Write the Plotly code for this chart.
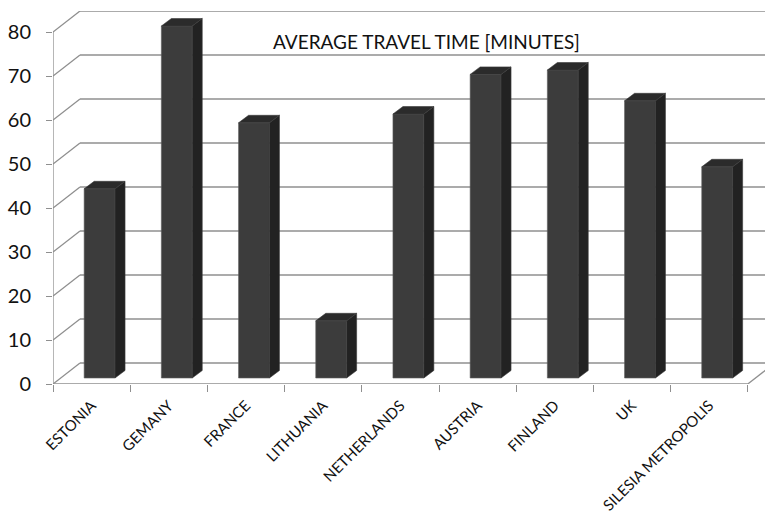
import plotly.graph_objects as go

# Data
countries = ["ESTONIA", "GEMANY", "FRANCE", "LITHUANIA", "NETHERLANDS",
             "AUSTRIA", "FINLAND", "UK", "SILESIA METROPOLIS"]
minutes = [43, 80, 58, 13, 60, 69, 70, 63, 48]
y_ticks = [0, 10, 20, 30, 40, 50, 60, 70, 80]
title_text = "AVERAGE TRAVEL TIME [MINUTES]"

# Canvas / plot-area geometry (pixels)
W, H = 765, 516
ML, MR, MT, MB = 53, 0, 11, 132
plot_w = W - ML - MR
plot_h = H - MT - MB
CAT_PX = 77.2          # width of one category slot
UNIT_PX = 4.4          # pixels per minute
n = len(countries)
x_max = -0.5 + plot_w / CAT_PX
y_top = plot_h / UNIT_PX

# Pseudo-3D depth offsets (pixels)
WALL_DX, WALL_DY = 27, 21      # front plane -> back wall
BAR_DX, BAR_DY = 8, 6          # front plane -> bar front faces
FACE_DX, FACE_DY = 10, 7.5     # bar depth
BAR_W = 0.4

wx, wy = WALL_DX / CAT_PX, WALL_DY / UNIT_PX
bx, by = BAR_DX / CAT_PX, BAR_DY / UNIT_PX
fx, fy = FACE_DX / CAT_PX, FACE_DY / UNIT_PX

GRID = "#8f8f8f"
FRONT = "#3c3c3c"
SIDE = "#222222"
TOP = "#2b2b2b"
EDGE = "#5e5e5e"
FONT = "Lato"
TEXT = "#111111"

fig = go.Figure()

# Front faces of the bars
fig.add_trace(go.Bar(
    x=list(range(n)), y=minutes, width=BAR_W,
    xaxis="x2", yaxis="y2",
    marker=dict(color=FRONT, line=dict(color=EDGE, width=0.6)),
    hoverinfo="skip",
))

# Side and top faces built from the same values
side_x, side_y, top_x, top_y = [], [], [], []
for i, v in enumerate(minutes):
    xr = i + BAR_W / 2
    xl = i - BAR_W / 2
    side_x += [xr, xr + fx, xr + fx, xr, xr, None]
    side_y += [0, fy, v + fy, v, 0, None]
    top_x += [xl, xr, xr + fx, xl + fx, xl, None]
    top_y += [v, v, v + fy, v + fy, v, None]

fig.add_trace(go.Scatter(
    x=side_x, y=side_y, xaxis="x2", yaxis="y2", mode="lines",
    fill="toself", fillcolor=SIDE, line=dict(color="#3a3a3a", width=0.6),
    hoverinfo="skip",
))
fig.add_trace(go.Scatter(
    x=top_x, y=top_y, xaxis="x2", yaxis="y2", mode="lines",
    fill="toself", fillcolor=TOP, line=dict(color="#3a3a3a", width=0.6),
    hoverinfo="skip",
))

# Walls, floor and gridlines
shapes = []
line_style = dict(color=GRID, width=1.3)
for v in y_ticks:
    shapes.append(dict(type="line", xref="x", yref="y", layer="below",
                       x0=-0.5 + wx, y0=v + wy, x1=x_max + 1, y1=v + wy,
                       line=line_style))
    shapes.append(dict(type="line", xref="x", yref="y", layer="below",
                       x0=-0.5, y0=v, x1=-0.5 + wx, y1=v + wy,
                       line=line_style))
shapes.append(dict(type="line", xref="x", yref="y", layer="below",
                   x0=-0.5, y0=0, x1=-0.5, y1=max(y_ticks), line=line_style))
shapes.append(dict(type="line", xref="x", yref="y", layer="below",
                   x0=-0.5, y0=0, x1=n - 0.5, y1=0, line=line_style))
shapes.append(dict(type="line", xref="x", yref="y", layer="below",
                   x0=n - 0.5, y0=0, x1=n - 0.5 + wx, y1=wy, line=line_style))

fig.update_layout(
    width=W, height=H,
    margin=dict(l=ML, r=MR, t=MT, b=MB, pad=0),
    paper_bgcolor="white", plot_bgcolor="white",
    showlegend=False, hovermode=False,
    font=dict(family=FONT, color=TEXT),
    shapes=shapes,
    xaxis=dict(
        type="category", categoryorder="array", categoryarray=countries,
        tickvals=countries, ticktext=countries,
        range=[-0.5, x_max], tickson="boundaries",
        ticks="outside", ticklen=7, tickcolor=GRID, tickwidth=1.3,
        tickangle=-45, tickfont=dict(size=15, color=TEXT),
        ticklabelstandoff=9,
        showgrid=False, zeroline=False, showline=False, fixedrange=True,
    ),
    yaxis=dict(
        range=[0, y_top], tickvals=y_ticks,
        ticks="outside", ticklen=6, tickcolor=GRID, tickwidth=1.3,
        ticklabelstandoff=11,
        tickfont=dict(size=20, color=TEXT),
        showgrid=False, zeroline=False, showline=False, fixedrange=True,
    ),
    xaxis2=dict(overlaying="x", range=[-0.5 - bx, x_max - bx],
                visible=False, fixedrange=True),
    yaxis2=dict(overlaying="y", range=[-by, y_top - by],
                visible=False, fixedrange=True),
    annotations=[dict(
        text=title_text, xref="paper", yref="paper",
        x=(426 - ML) / plot_w, y=(MT + plot_h - 41) / plot_h,
        xanchor="center", yanchor="middle", showarrow=False,
        font=dict(size=19, color=TEXT, family=FONT),
    )],
)

fig.add_trace(go.Scatter(x=countries, y=[None] * n, xaxis="x", yaxis="y",
                         mode="markers", hoverinfo="skip"))

fig.write_html("out.html")
